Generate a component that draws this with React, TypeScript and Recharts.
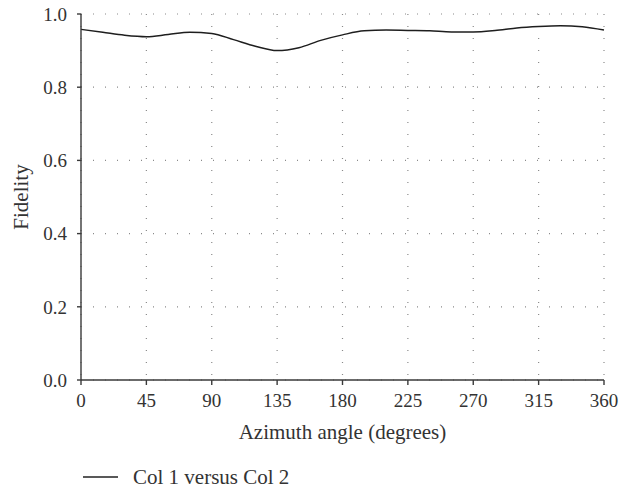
import { CartesianGrid, Legend, Line, LineChart, XAxis, YAxis } from 'recharts';

// fidelity sampled every 15 degrees of azimuth
const angles = [0, 15, 30, 45, 60, 75, 90, 105, 120, 135, 150, 165, 180, 195, 210, 225, 240, 255, 270, 285, 300, 315, 330, 345, 360];
const fidelity = [
  0.958, 0.95, 0.942, 0.938, 0.944, 0.95, 0.947, 0.93, 0.912, 0.9, 0.908, 0.928, 0.943,
  0.954, 0.956, 0.955, 0.954, 0.951, 0.951, 0.955, 0.962, 0.966, 0.968, 0.965, 0.956,
];
const xTicks = [0, 45, 90, 135, 180, 225, 270, 315, 360];
const yTicks = [0, 0.2, 0.4, 0.6, 0.8, 1.0];
const seriesName = 'Col 1 versus Col 2';

const data = angles.map((a, i) => ({ angle: a, fidelity: fidelity[i] }));

const FONT = 'Liberation Serif';
const INK = '#333';
const AXIS = '#3a3a3a';

function LegendBox() {
  return (
    <div style={{ display: 'flex', alignItems: 'center', height: 24, fontFamily: FONT, fontSize: 21, color: INK }}>
      <svg width={36} height={24} style={{ display: 'block' }}>
        <line x1={0} x2={35} y1={12} y2={12} stroke="#222" strokeWidth={1.4} />
      </svg>
      <span style={{ marginLeft: 14, whiteSpace: 'nowrap' }}>{seriesName}</span>
    </div>
  );
}

export default function App() {
  return (
    <div style={{ position: 'absolute', top: 0, left: 0, background: '#fff', fontFamily: FONT }}>
      <LineChart width={619} height={491} data={data} margin={{ top: 14, right: 15, left: 0, bottom: 41 }}>
        <CartesianGrid stroke="#8a8a8a" strokeWidth={1.2} strokeDasharray="1 11" />
        <XAxis
          dataKey="angle"
          type="number"
          domain={[0, 360]}
          ticks={xTicks}
          height={70}
          stroke={AXIS}
          strokeWidth={1.4}
          tickSize={5}
          tickMargin={9}
          tick={{ fill: INK, fontSize: 19, fontFamily: FONT }}
          label={({ viewBox }: any) => (
            <text
              x={viewBox.x + viewBox.width / 2}
              y={viewBox.y + 59}
              textAnchor="middle"
              fill={INK}
              fontSize={21}
              fontFamily={FONT}
            >
              Azimuth angle (degrees)
            </text>
          )}
        />
        <XAxis
          xAxisId="top"
          dataKey="angle"
          type="number"
          orientation="top"
          domain={[0, 360]}
          ticks={xTicks}
          height={0}
          mirror
          stroke={AXIS}
          strokeWidth={1.4}
          tickSize={3}
          tickFormatter={() => ''}
        />
        <YAxis
          domain={[0, 1]}
          ticks={yTicks}
          width={81}
          stroke={AXIS}
          strokeWidth={1.4}
          tickSize={4}
          tickMargin={10}
          tickFormatter={(v: number) => v.toFixed(1)}
          tick={{ fill: INK, fontSize: 19, fontFamily: FONT }}
          label={({ viewBox }: any) => {
            const cy = viewBox.y + viewBox.height / 2;
            return (
              <text
                x={21}
                y={cy}
                transform={`rotate(-90, 21, ${cy})`}
                textAnchor="middle"
                dominantBaseline="central"
                fill={INK}
                fontSize={21}
                fontFamily={FONT}
              >
                Fidelity
              </text>
            );
          }}
        />
        <YAxis
          yAxisId="right"
          orientation="right"
          domain={[0, 1]}
          width={0}
          stroke={AXIS}
          strokeWidth={1.4}
          tick={false}
          tickLine={false}
        />
        <Legend
          layout="horizontal"
          verticalAlign="middle"
          align="center"
          content={() => <LegendBox />}
          wrapperStyle={{ top: 465, left: 83, width: 'auto' }}
        />
        <Line
          type="monotone"
          dataKey="fidelity"
          name={seriesName}
          stroke="#1e1e1e"
          strokeWidth={1.5}
          dot={false}
          isAnimationActive={false}
        />
      </LineChart>
    </div>
  );
}
